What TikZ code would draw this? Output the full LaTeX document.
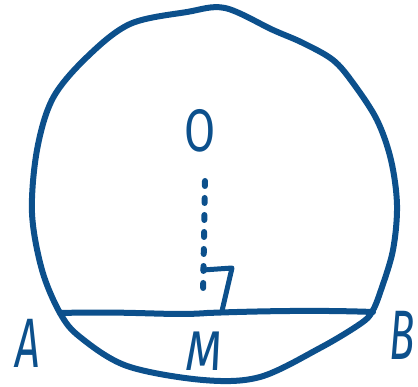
\documentclass[tikz,border=0pt]{standalone}
\usepackage{fontspec}
\setsansfont{Fira Sans}
\definecolor{ink}{RGB}{12,80,140}
\begin{document}
\begin{tikzpicture}[x=1pt,y=-1pt,
  pen/.style={draw=ink,line width=6pt,line cap=round,line join=round},
  lbl/.style={text=ink,inner sep=0pt}]
\useasboundingbox (0,0) rectangle (418,387);
% circle
\draw[pen] plot[smooth cycle,tension=0.55] coordinates {
 (225,8) (273,30) (303,43) (333,60) (353,83) (377,120) (391,160) (397,205) (393,250)
 (381,290) (372,312) (360,324) (320,348) (260,377) (203,380) (127,366)
 (80,337) (60,313) (42,270) (32,213) (37,150) (53,98) (87,57) (130,24) (187,12)};
% points
\coordinate (A) at (60,313);
\coordinate (B) at (373,312);
\coordinate (M) at (207,313);
\coordinate (O) at (205,181);
% chord
\draw[pen] (A) .. controls (140,311) and (170,316) .. (M) .. controls (260,311) and (320,310) .. (B);
% perpendicular dashed
\draw[pen,dash pattern=on 5pt off 12pt] (O) -- (203,296);
% right angle mark
\coordinate (R1) at (203,270);
\coordinate (R2) at (232,268);
\coordinate (R3) at (222,311);
\draw[pen,line width=5pt] (R1) -- (R2) -- (R3);
% labels
\node[lbl,font=\sffamily\fontsize{60}{60}\selectfont,xscale=0.75] (lO) at (200,131) {O};
\node[lbl,font=\sffamily\itshape\fontsize{70}{70}\selectfont,xscale=0.62] (lA) at (28,343) {A};
\node[lbl,font=\sffamily\itshape\fontsize{70}{70}\selectfont,xscale=0.6] (lB) at (402,335) {B};
\node[lbl,font=\sffamily\itshape\fontsize{56}{56}\selectfont,xscale=0.85] (lM) at (204,351) {M};
\end{tikzpicture}
\end{document}
